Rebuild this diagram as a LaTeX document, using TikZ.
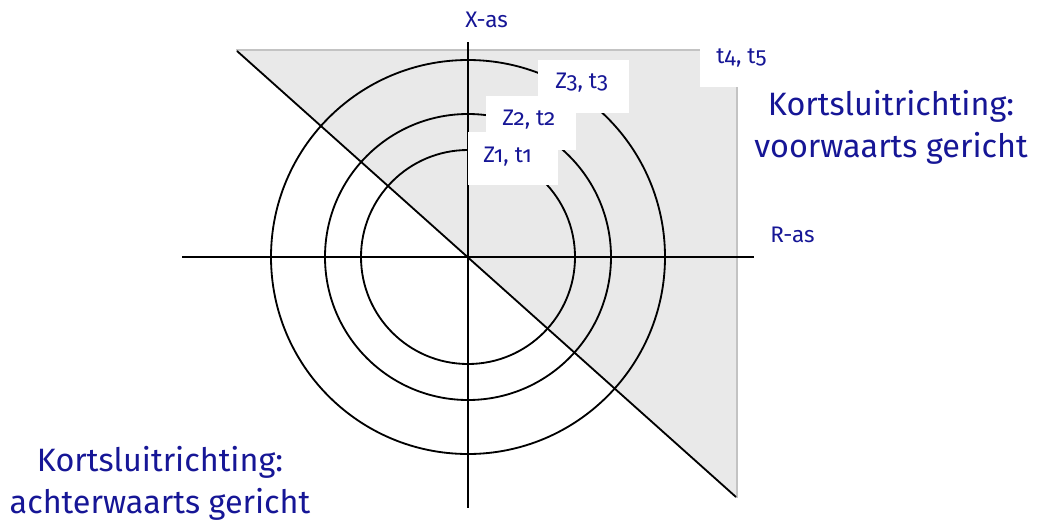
\documentclass[tikz,border=0pt]{standalone}
\usepackage{fontspec}
\setmainfont{Fira Sans}[Numbers=OldStyle]
\usetikzlibrary{positioning}
\definecolor{inkblue}{RGB}{22,22,150}
\definecolor{shadegray}{RGB}{233,233,233}
\definecolor{edgegray}{RGB}{195,195,195}
\tikzset{
  axis/.style={line width=1.3pt, black},
  circ/.style={line width=1.3pt, black},
  rim/.style={line width=1.1pt, edgegray},
  whitebox/.style={fill=white},
  lbl/.style={inner sep=0pt, text=inkblue, anchor=base west, font=\fontsize{16}{19}\selectfont},
  axlbl/.style={lbl, font=\fontsize{16}{19}\selectfont},
  bigtxt/.style={inner sep=0pt, text=inkblue, align=center, anchor=base,
                 font=\fontsize{23}{29.8}\selectfont},
}

\begin{document}
\begin{tikzpicture}[x=0.025cm, y=-0.025cm]
\useasboundingbox (0,0) rectangle (1037,521);
\coordinate (O) at (468,257);

% shaded forward region
\fill[shadegray] (236,50) -- (737,50) -- (737,498) -- cycle;
\draw[rim] (236,50) -- (737,50) -- (737,498);

% impedance circles
\foreach \r in {107,143,197}
  \draw[circ] (O) circle[radius=\r];

% axes and direction line
\draw[axis] (182,257) -- (754,257);
\draw[axis] (468,42) -- (468,508);
\draw[axis] (237,51) -- (736,497);

% label backgrounds
\fill[whitebox] (700,38) rectangle (768,87);
\fill[whitebox] (538,60) rectangle (629,113);
\fill[whitebox] (486,96) rectangle (576,150);
\fill[whitebox] (468,132) rectangle (558,185);

\node[axlbl] (xas) at (465,27) {X-as};
\node[axlbl] (ras) at (770,242) {R-as};
\node[lbl] (t45) at (716,63) {t4, t5};
\node[lbl] (z3) at (555,88) {Z3, t3};
\node[lbl] (z2) at (502,125) {Z2, t2};
\node[lbl] (z1) at (483,162) {Z1, t1};

% last-line baselines
\node[bigtxt] (vw) at (891,157) {Kortsluitrichting:\\voorwaarts gericht};
\node[bigtxt] (aw) at (160,513) {Kortsluitrichting:\\achterwaarts gericht};
\end{tikzpicture}
\end{document}
